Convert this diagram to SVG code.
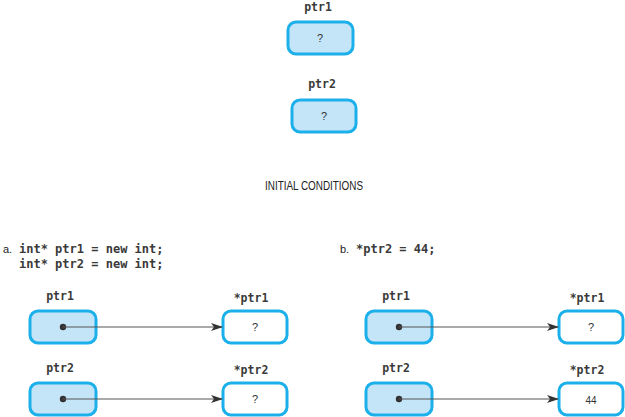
<svg xmlns="http://www.w3.org/2000/svg" width="625" height="417" viewBox="0 0 625 417">
<style>
.ptr{fill:#c4e4f8;stroke:#1cb0ea;stroke-width:3}
.val{fill:#ffffff;stroke:#1cb0ea;stroke-width:3}
.code{font-family:"DejaVu Sans Mono","Liberation Mono",monospace;font-size:12px;fill:#3a3a3a;font-weight:bold}
.lbl{font-family:"DejaVu Sans Mono","Liberation Mono",monospace;font-size:11.5px;fill:#3a3a3a;font-weight:bold;text-anchor:middle}
.q{font-family:"Liberation Sans",Arial,sans-serif;font-size:11px;fill:#333;text-anchor:middle}
.cap{font-family:"Liberation Sans",Arial,sans-serif;font-size:11px;fill:#222}
.conn{stroke:#555;stroke-width:1.2;fill:none;marker-end:url(#ah)}
</style>
<defs>
<marker id="ah" markerWidth="12" markerHeight="8" refX="11" refY="4" orient="auto" markerUnits="userSpaceOnUse">
<path d="M0,0 L12,4 L0,8 L3,4 Z" fill="#333"/>
</marker>
</defs>
<rect width="625" height="417" fill="#fff"/>

<g id="init-ptr1">
<text class="lbl" x="318" y="11">ptr1</text>
<rect class="ptr" x="288" y="22" width="65" height="32" rx="8"/>
<text class="q" x="320" y="42">?</text>
</g>
<g id="init-ptr2">
<text class="lbl" x="322" y="88">ptr2</text>
<rect class="ptr" x="292" y="100" width="64" height="32" rx="8"/>
<text class="q" x="324" y="120">?</text>
</g>
<text class="cap" x="265" y="190" style="font-size:12px" textLength="98" lengthAdjust="spacingAndGlyphs">INITIAL CONDITIONS</text>

<text class="cap" x="3" y="253">a.</text>
<text class="code" x="19" y="253">int* ptr1 = new int;</text>
<text class="code" x="19" y="268">int* ptr2 = new int;</text>

<text class="cap" x="340" y="253">b.</text>
<text class="code" x="356" y="253">*ptr2 = 44;</text>

<g id="a-ptr1">
<text class="lbl" x="60" y="300">ptr1</text>
<rect class="ptr" x="30" y="311" width="66" height="32" rx="8"/>
<circle cx="63" cy="327" r="3.2" fill="#333"/>
</g>
<g id="a-val1">
<text class="lbl" x="251" y="302">*ptr1</text>
<rect class="val" x="223" y="311" width="64" height="32" rx="8"/>
<text class="q" x="255" y="331">?</text>
</g>
<g id="a-ptr2">
<text class="lbl" x="60" y="372">ptr2</text>
<rect class="ptr" x="30" y="383" width="66" height="32" rx="8"/>
<circle cx="63" cy="399" r="3.2" fill="#333"/>
</g>
<g id="a-val2">
<text class="lbl" x="251" y="374">*ptr2</text>
<rect class="val" x="223" y="383" width="64" height="32" rx="8"/>
<text class="q" x="255" y="403">?</text>
</g>

<g id="b-ptr1">
<text class="lbl" x="396" y="300">ptr1</text>
<rect class="ptr" x="366" y="311" width="66" height="32" rx="8"/>
<circle cx="399" cy="327" r="3.2" fill="#333"/>
</g>
<g id="b-val1">
<text class="lbl" x="587" y="302">*ptr1</text>
<rect class="val" x="559" y="311" width="64" height="32" rx="8"/>
<text class="q" x="591" y="331">?</text>
</g>
<g id="b-ptr2">
<text class="lbl" x="396" y="372">ptr2</text>
<rect class="ptr" x="366" y="383" width="66" height="32" rx="8"/>
<circle cx="399" cy="399" r="3.2" fill="#333"/>
</g>
<g id="b-val2">
<text class="lbl" x="587" y="374">*ptr2</text>
<rect class="val" x="559" y="383" width="64" height="32" rx="8"/>
<text class="q" x="591" y="404" style="font-size:10px">44</text>
</g>

<g id="connectors">
<line class="conn" x1="63" y1="327" x2="222" y2="327"/>
<line class="conn" x1="63" y1="399" x2="222" y2="399"/>
<line class="conn" x1="399" y1="327" x2="558" y2="327"/>
<line class="conn" x1="399" y1="399" x2="558" y2="399"/>
</g>
</svg>
